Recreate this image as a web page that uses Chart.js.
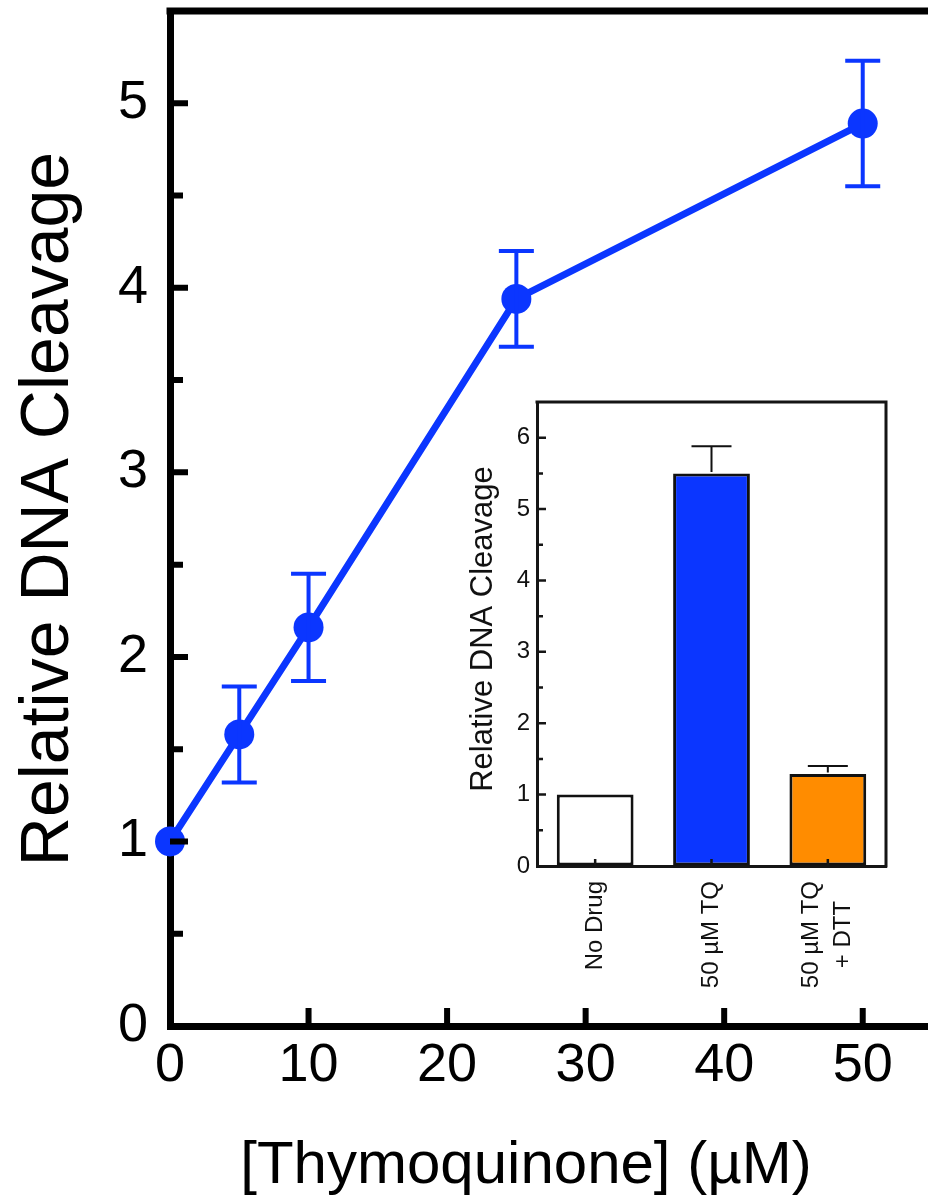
<!DOCTYPE html>
<html>
<head>
<meta charset="utf-8">
<script src="https://cdn.jsdelivr.net/npm/chart.js@4.4.1/dist/chart.umd.min.js"></script>
<style>
  html, body { margin: 0; padding: 0; background: #fff; overflow: hidden; }
  #wrap { position: relative; width: 928px; height: 1197px; overflow: hidden; }
  #main { position: absolute; left: 0; top: 0; }
  #inset { position: absolute; left: 440px; top: 380px; }
</style>
</head>
<body>
<div id="wrap">
  <canvas id="main" width="932" height="1197"></canvas>
  <canvas id="inset" width="488" height="630"></canvas>
</div>
<script>
// Dose response: thymoquinone concentration (µM) vs relative DNA cleavage
const concentrations = [0, 5, 10, 25, 50];
const cleavage = [1.0, 1.58, 2.16, 3.94, 4.89];
const cleavageErr = [0, 0.26, 0.29, 0.26, 0.34];

// Inset bar chart
const insetCategories = [['No Drug'], ['50 µM TQ'], ['50 µM TQ', '+ DTT']];
const insetValues = [1.0, 5.5, 1.29];
const insetErr = [0, 0.38, 0.11];
const insetColors = ['#ffffff', '#0b36ff', '#ff8c00'];

const mainXTitle = '[Thymoquinone] (µM)';
const mainYTitle = 'Relative DNA Cleavage';
const insetYTitle = 'Relative DNA Cleavage';

const FONT = '"Liberation Sans", Arial, Helvetica, sans-serif';
const BLUE = '#0b36ff';

Chart.defaults.font.family = FONT;
Chart.defaults.color = '#000';

function keepWhole(step) {
  return (scale) => {
    scale.ticks = scale.ticks.filter(t => Math.abs(t.value / step - Math.round(t.value / step)) < 1e-9);
  };
}

// fixed scale box, no extra label padding
function fixBox(prop, size) {
  return (s) => {
    s[prop] = size;
    s.paddingTop = 0; s.paddingBottom = 0; s.paddingLeft = 0; s.paddingRight = 0;
  };
}

// Frame, inward ticks, error bars and axis titles for the main panel
const mainDecor = {
  id: 'mainDecor',
  afterDraw(chart) {
    const ctx = chart.ctx;
    const { left, right, top, bottom } = chart.chartArea;
    const xs = chart.scales.x, ys = chart.scales.y;
    ctx.save();
    ctx.strokeStyle = '#000';
    ctx.lineCap = 'butt';
    // top and right spines
    ctx.lineWidth = 7;
    ctx.beginPath();
    ctx.moveTo(left - 3.5, top);
    ctx.lineTo(right, top);
    ctx.moveTo(right, top);
    ctx.lineTo(right, bottom);
    ctx.stroke();
    // inward ticks
    ctx.lineWidth = 6;
    ctx.beginPath();
    ys.ticks.forEach((t) => {
      const y = ys.getPixelForValue(t.value);
      if (t.value > 0) { ctx.moveTo(left, y); ctx.lineTo(left + 18, y); }
      const ym = ys.getPixelForValue(t.value + 0.5);
      if (t.value + 0.5 < ys.max) { ctx.moveTo(left, ym); ctx.lineTo(left + 13, ym); }
    });
    xs.ticks.forEach(t => {
      if (t.value <= 0) return;
      const x = xs.getPixelForValue(t.value);
      ctx.moveTo(x, bottom); ctx.lineTo(x, bottom - 18);
    });
    ctx.stroke();
    ctx.restore();
  },
  afterDatasetsDraw(chart) {
    const ctx = chart.ctx;
    const xs = chart.scales.x, ys = chart.scales.y;
    ctx.save();
    ctx.strokeStyle = BLUE;
    ctx.lineWidth = 4;
    ctx.beginPath();
    concentrations.forEach((c, i) => {
      const e = cleavageErr[i];
      if (!e) return;
      const x = xs.getPixelForValue(c);
      const y1 = ys.getPixelForValue(cleavage[i] + e);
      const y2 = ys.getPixelForValue(cleavage[i] - e);
      ctx.moveTo(x, y1); ctx.lineTo(x, y2);
      ctx.moveTo(x - 17.5, y1); ctx.lineTo(x + 17.5, y1);
      ctx.moveTo(x - 17.5, y2); ctx.lineTo(x + 17.5, y2);
    });
    ctx.stroke();
    // axis titles
    ctx.fillStyle = '#000';
    ctx.font = '60px ' + FONT;
    ctx.textAlign = 'center';
    ctx.textBaseline = 'alphabetic';
    ctx.fillText(mainXTitle, 526, 1183);
    ctx.translate(68, 509);
    ctx.rotate(-Math.PI / 2);
    ctx.font = '68px ' + FONT;
    ctx.fillText(mainYTitle, 0, 0);
    ctx.restore();
  }
};

new Chart(document.getElementById('main'), {
  type: 'line',
  data: {
    datasets: [{
      data: concentrations.map((c, i) => ({ x: c, y: cleavage[i] })),
      borderColor: BLUE,
      backgroundColor: BLUE,
      borderWidth: 7,
      pointRadius: 15,
      pointHoverRadius: 15,
      pointBorderWidth: 0,
      tension: 0,
      clip: false
    }]
  },
  options: {
    responsive: false,
    animation: false,
    devicePixelRatio: 1,
    layout: { autoPadding: false, padding: { top: 11, right: 0, left: 0, bottom: 0 } },
    plugins: { legend: { display: false }, tooltip: { enabled: false } },
    scales: {
      x: {
        type: 'linear', min: 0, max: 55,
        afterFit: fixBox('height', 171),
        afterBuildTicks: keepWhole(10),
        grid: { display: true, drawOnChartArea: false, drawTicks: false },
        border: { display: true, color: '#000', width: 7 },
        ticks: { stepSize: 10, includeBounds: false, maxRotation: 0, autoSkip: false, padding: 8, color: '#000', font: { size: 54 } }
      },
      y: {
        type: 'linear', min: 0, max: 5.5,
        afterFit: fixBox('width', 170),
        afterBuildTicks: keepWhole(1),
        grid: { display: true, drawOnChartArea: false, drawTicks: false },
        border: { display: true, color: '#000', width: 7 },
        ticks: { stepSize: 1, includeBounds: false, padding: 22, color: '#000', font: { size: 54 } }
      }
    }
  },
  plugins: [mainDecor]
});

// Frame, inward ticks, error bars, category labels and title for the inset
const insetDecor = {
  id: 'insetDecor',
  afterDraw(chart) {
    const ctx = chart.ctx;
    const { left, right, top, bottom } = chart.chartArea;
    const xs = chart.scales.x, ys = chart.scales.y;
    ctx.save();
    ctx.strokeStyle = '#151515';
    ctx.lineWidth = 3;
    ctx.beginPath();
    ctx.moveTo(left - 1.5, top);
    ctx.lineTo(right, top);
    ctx.lineTo(right, bottom + 1.5);
    ctx.stroke();
    ctx.lineWidth = 2.5;
    ctx.beginPath();
    ys.ticks.forEach((t) => {
      const y = ys.getPixelForValue(t.value);
      if (t.value > 0) { ctx.moveTo(left, y); ctx.lineTo(left + 9, y); }
      const ym = ys.getPixelForValue(t.value + 0.5);
      if (t.value + 0.5 < ys.max) { ctx.moveTo(left, ym); ctx.lineTo(left + 6, ym); }
    });
    insetCategories.forEach((c, i) => {
      const x = xs.getPixelForValue(i);
      ctx.moveTo(x, bottom); ctx.lineTo(x, bottom - 7);
    });
    ctx.stroke();

    // error bars (upper only)
    ctx.strokeStyle = '#111';
    ctx.lineWidth = 2;
    ctx.beginPath();
    insetValues.forEach((v, i) => {
      const e = insetErr[i];
      if (!e) return;
      const x = xs.getPixelForValue(i);
      const y0 = ys.getPixelForValue(v);
      const y1 = ys.getPixelForValue(v + e);
      ctx.moveTo(x, y0 - 1.5); ctx.lineTo(x, y1);
      ctx.moveTo(x - 20, y1); ctx.lineTo(x + 20, y1);
    });
    ctx.stroke();

    // rotated category labels, lines centred on each other
    ctx.fillStyle = '#111';
    ctx.font = '24px ' + FONT;
    ctx.textBaseline = 'middle';
    ctx.textAlign = 'center';
    const labelTop = bottom + 15;
    const lineGap = 32;
    insetCategories.forEach((lines, i) => {
      const x = xs.getPixelForValue(i);
      const w = Math.max(...lines.map(l => ctx.measureText(l).width));
      ctx.save();
      ctx.translate(x, labelTop);
      ctx.rotate(-Math.PI / 2);
      lines.forEach((l, k) => {
        const off = (k - (lines.length - 1) / 2) * lineGap;
        ctx.fillText(l, -w / 2, off);
      });
      ctx.restore();
    });

    // y title
    ctx.textBaseline = 'alphabetic';
    ctx.font = '31px ' + FONT;
    ctx.translate(52, 249);
    ctx.rotate(-Math.PI / 2);
    ctx.fillText(insetYTitle, 0, 0);
    ctx.restore();
  }
};

new Chart(document.getElementById('inset'), {
  type: 'bar',
  data: {
    labels: insetCategories.map(l => l.join(' ')),
    datasets: [{
      data: insetValues,
      backgroundColor: insetColors,
      borderColor: '#111',
      borderWidth: 3,
      borderSkipped: false,
      categoryPercentage: 0.66,
      barPercentage: 1.0
    }]
  },
  options: {
    responsive: false,
    animation: false,
    devicePixelRatio: 1,
    layout: { autoPadding: false, padding: { top: 22, right: 42, left: 0, bottom: 0 } },
    plugins: { legend: { display: false }, tooltip: { enabled: false } },
    scales: {
      x: {
        afterFit: fixBox('height', 144),
        grid: { display: true, drawOnChartArea: false, drawTicks: false },
        border: { display: true, color: '#151515', width: 3 },
        ticks: { display: false }
      },
      y: {
        min: 0, max: 6.5,
        afterFit: fixBox('width', 97),
        afterBuildTicks: keepWhole(1),
        grid: { display: true, drawOnChartArea: false, drawTicks: false },
        border: { display: true, color: '#151515', width: 3 },
        ticks: { stepSize: 1, includeBounds: false, padding: 7, color: '#111', font: { size: 24 } }
      }
    }
  },
  plugins: [insetDecor]
});
</script>
</body>
</html>
